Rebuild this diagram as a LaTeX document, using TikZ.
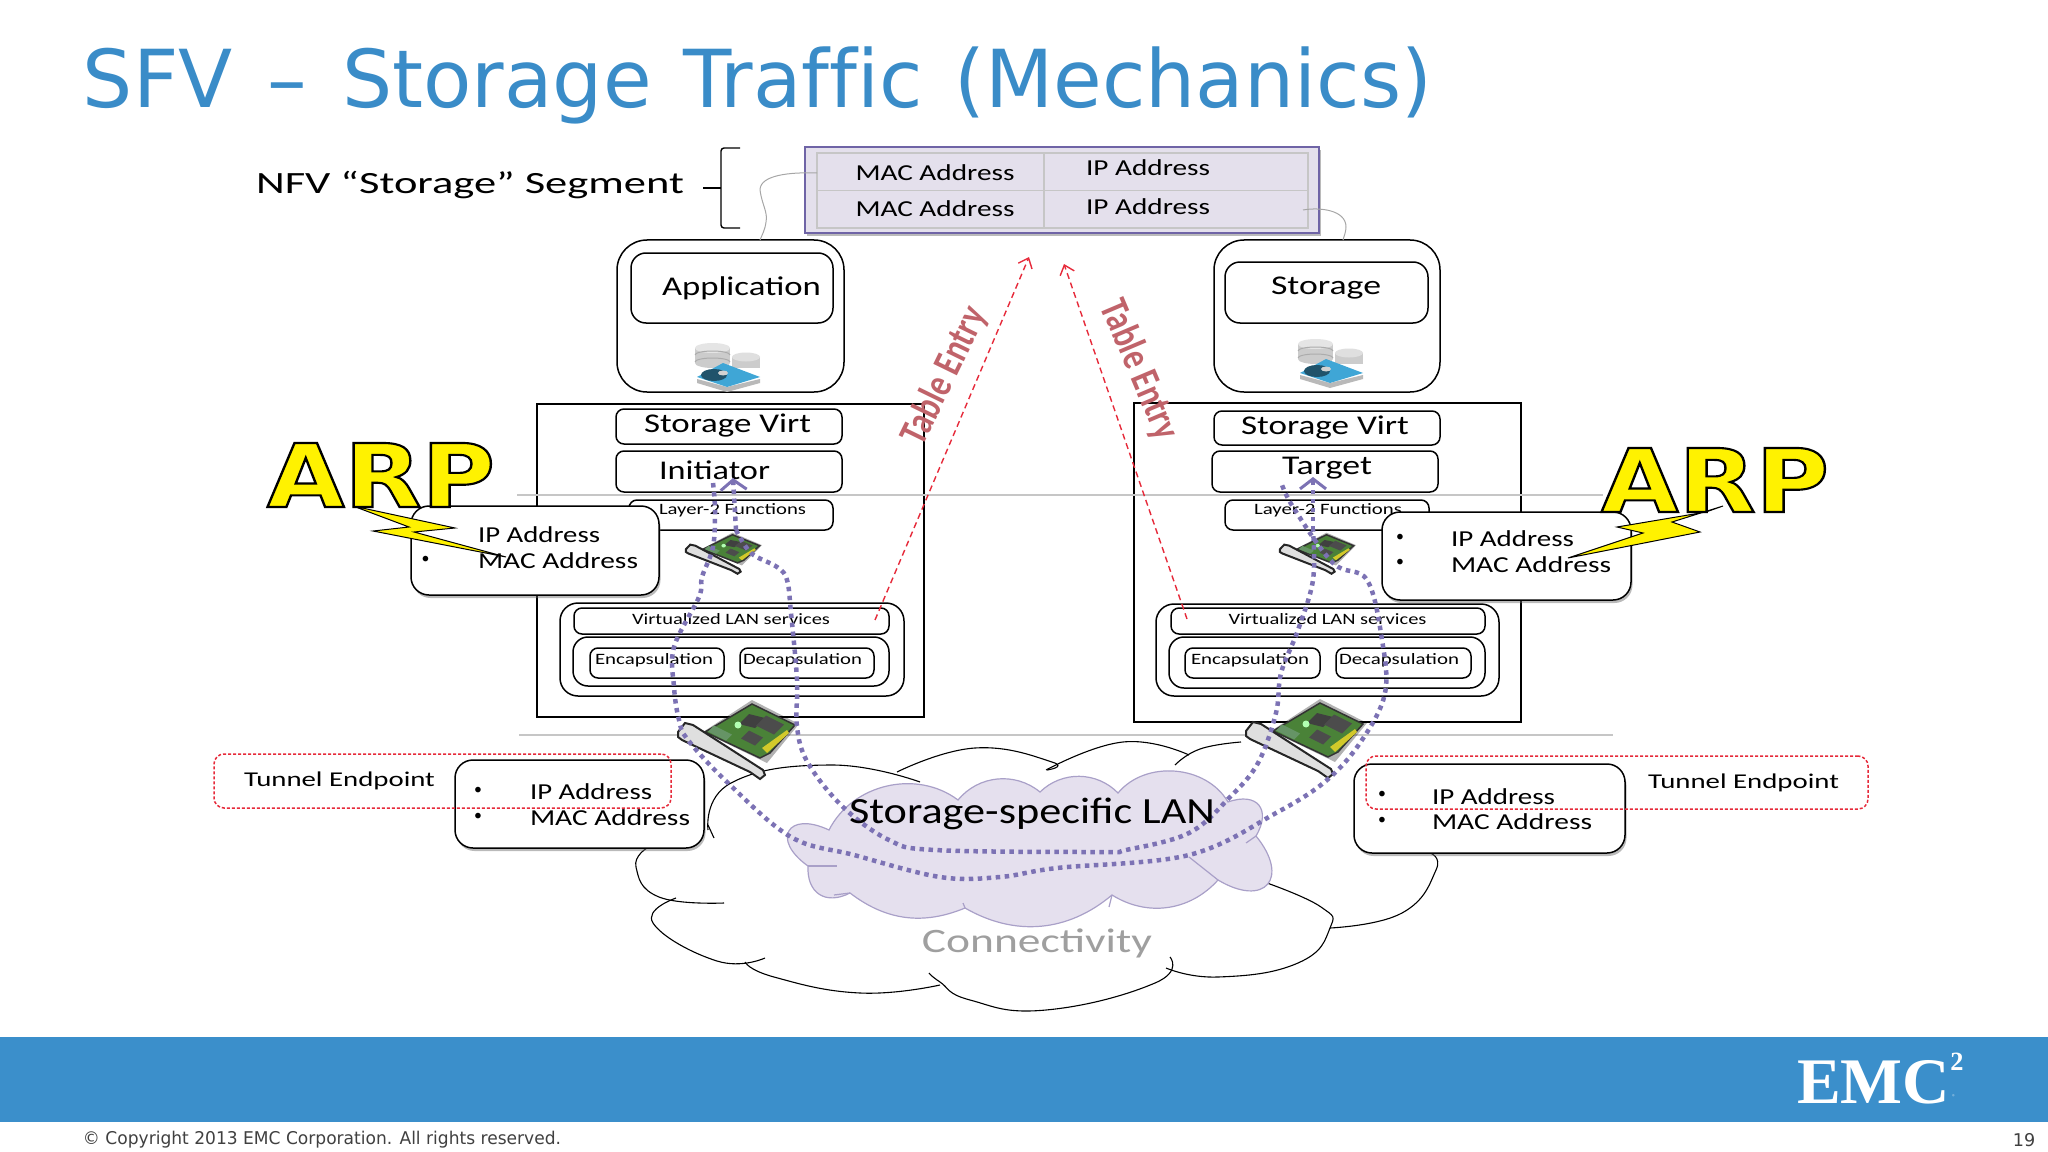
\documentclass[tikz,border=0pt]{standalone}
\usepackage{fontspec}
\usepackage{graphicx}
\usepackage{tikz}
\usetikzlibrary{calc,arrows.meta,shadows}
\setmainfont{Carlito}
\newfontfamily\titlefont[Ligatures=NoCommon]{DejaVu Sans}
\newfontfamily\arpfont{DejaVu Sans}
\newfontfamily\logofont{Liberation Serif}

\newlength\pxu
\setlength\pxu{0.02cm}
% text stretched to a width given in picture units
\newcommand{\fitw}[2]{\resizebox{#1\pxu}{\height}{#2}}
\newcommand{\arptext}{\resizebox{228\pxu}{\height}{\bfseries\special{pdf:code q 2 Tr 0 0 0 RG 1.2 w}ARP\special{pdf:code Q}}}
\newcommand{\cloudarc}[1]{\draw[cloudline] plot[smooth, tension=0.8] coordinates {#1};}

\definecolor{emcblue}{HTML}{3B8FCB}
\definecolor{titleblue}{HTML}{3A8CC8}
\definecolor{tblfill}{HTML}{E4E0EC}
\definecolor{tbledge}{HTML}{6F64A6}
\definecolor{lanfill}{HTML}{E5E0EE}
\definecolor{lanedge}{HTML}{A9A0C8}
\definecolor{pathpurple}{HTML}{7C72B4}
\definecolor{redline}{HTML}{E62A3A}
\definecolor{entrytext}{HTML}{C0636A}
\definecolor{nicgreen}{HTML}{4A8238}
\definecolor{hddblue}{HTML}{3FA6D6}

\tikzset{
  rbox/.style={draw=black, fill=white, rectangle, rounded corners=#1\pxu, line width=1.5\pxu, inner sep=0pt},
  rbox/.default=10,
  wh/.style 2 args={minimum width=#1\pxu, minimum height=#2\pxu},
  bigbox/.style={draw=black, fill=white, rectangle, line width=1.5\pxu, inner sep=0pt},
  softshadow/.style={drop shadow={shadow xshift=1.5\pxu, shadow yshift=-3\pxu, opacity=0.45, fill=black!60}},
  tunnelbox/.style={draw=redline, rectangle, rounded corners=10\pxu, line width=1.5\pxu, dash pattern=on 3\pxu off 2\pxu, inner sep=0pt},
  cloudline/.style={draw=black, line width=1.1\pxu},
  graylink/.style={draw=gray!70, line width=1\pxu},
  sepline/.style={draw=gray!45, line width=1.2\pxu},
  redarrow/.style={draw=redline, line width=1.4\pxu, dash pattern=on 6\pxu off 4\pxu, -{Straight Barb[length=5pt, width=8.5pt, line width=0.8pt]}},
  dotpath/.style={draw=pathpurple, line width=4.5\pxu, dash pattern=on 4.5\pxu off 4.5\pxu},
  lab/.style={inner sep=0pt, font=\fontsize{13}{15}\selectfont},
  bulletl/.style={inner sep=0pt, font=\fontsize{9}{11}\selectfont},
  bigl/.style={inner sep=0pt, font=\fontsize{15.4}{18}\selectfont},
  smalll/.style={inner sep=0pt, font=\fontsize{9}{11}\selectfont},
  tunl/.style={inner sep=0pt, font=\fontsize{12}{14}\selectfont},
  entry/.style={inner sep=0pt, text=entrytext, font=\bfseries\fontsize{23}{26}\selectfont},
  arp/.style={inner sep=0pt, text=yellow, font=\arpfont\fontsize{50}{54}\selectfont},
  bolt/.style={draw=black, fill=yellow, line width=1\pxu},
  nic/.pic={
    % card body, its shadow first
    \fill[black, opacity=0.3] (15,-41) -- (62,-17) -- (30,22) -- (-34,-9) -- cycle;
    \filldraw[fill=nicgreen, draw=black!80, line width=1.5\pxu] (15,-37) -- (58,-16) -- (33,12) -- (23,17) -- (-32,-9) -- cycle;
    \fill[black!75] (18,-13) -- (28,-23) -- (12,-27) -- (2,-17) -- cycle;
    \fill[black!70] (37,-6.5) -- (47,-16.5) -- (29,-25.5) -- (19,-15.5) -- cycle;
    \fill[black!70] (18,4.5) -- (26,-3.5) -- (12,-10.5) -- (4,-2.5) -- cycle;
    \fill[green!30!black!60] (-11,-0.5) -- (-5,-6.5) -- (-23,-15.5) -- (-29,-9.5) -- cycle;
    \fill[white!70!green] (1,-16) circle[radius=3.5];
    \fill[yellow!80!black] (25,7) -- (50,-11) -- (52,-8) -- (30,12) -- cycle;
    % bracket
    \filldraw[fill=gray!25, draw=black!85, line width=2\pxu] (-59,-9) -- (-52,-18) -- (-44,-16) -- (26,29) -- (28,34) -- (23,38) -- (13,31) -- (-55,-1) -- (-59,-4) -- cycle;
  },
  dbicon/.pic={
    \fill[gray!40] (-33,-18) rectangle (2,-3);
    \fill[gray!40] (-15.5,-3) ellipse[x radius=17.5, y radius=5];
    \fill[gray!20] (-15.5,-18) ellipse[x radius=17.5, y radius=5];
    \draw[gray!65, line width=1\pxu] (-33,-11) arc[start angle=180, end angle=360, x radius=17.5, y radius=4];
    \draw[gray!65, line width=1\pxu] (-33,-4) arc[start angle=180, end angle=360, x radius=17.5, y radius=4];
    \fill[gray!40] (4,-9) rectangle (32,2);
    \fill[gray!25] (18,-9) ellipse[x radius=14, y radius=4.5];
    \fill[gray!55] (-31,13) -- (-1,21) -- (32,13) -- (32,17) -- (-1,26) -- (-31,17) -- cycle;
    \fill[hddblue] (-31,11) -- (-5,-3) -- (32,11) -- (-1,21) -- cycle;
    \fill[hddblue!50!black] (-14,9) ellipse[x radius=13, y radius=6];
    \fill[gray!35] (-5,7) ellipse[x radius=5, y radius=2.5];
  },
}

\begin{document}
\begin{tikzpicture}[x=0.02cm, y=-0.02cm]

  \useasboundingbox (0,0) rectangle (2048,1152);

  % ---- title and footer ----
  \node[inner sep=0pt, text=titleblue, font=\titlefont\fontsize{45.5}{52}\selectfont] (title) at (757.5,85) {\fitw{1349}{SFV\hspace{10\pxu} – \hspace{10\pxu}Storage\hspace{7\pxu} Traffic\hspace{7\pxu} (Mechanics)}};
  \fill[emcblue] (0,1037) rectangle (2048,1122);
  \node[inner sep=0pt, text=white, font=\logofont\bfseries\fontsize{37}{40}\selectfont] (emc) at (1873.5,1082) {\fitw{153}{EMC}};
  \node[inner sep=0pt, text=white, font=\logofont\bfseries\fontsize{15}{16}\selectfont] (emctwo) at (1957,1062) {2};
  \node[inner sep=0pt, text=white!70!emcblue, font=\fontsize{4}{4}\selectfont] (emcreg) at (1954,1097) {\textregistered};
  \node[inner sep=0pt, text=black!75, font=\titlefont\fontsize{10}{12}\selectfont] (copyright) at (322,1140) {\fitw{478}{\textcopyright{} Copyright 2013 EMC Corporation. All rights reserved.}};
  \node[inner sep=0pt, text=black!75, font=\titlefont\fontsize{10}{12}\selectfont] (pagenum) at (2024,1140) {19};

  % ---- outer cloud ----
  \cloudarc{(708,830)(731,783)(831,765)(920,782)}
  \cloudarc{(708,825)(714,838)}
  \cloudarc{(897,772)(975,748)(1052,762)(1047,770)}
  \cloudarc{(1046,770)(1123,742)(1189,755)}
  \cloudarc{(1175,765)(1200,749)(1241,742)}
  \cloudarc{(1430,853)(1436,870)(1402,913)(1330,928)}
  \cloudarc{(1267,883)(1321,907)(1330,928)(1298,963)(1218,977)(1166,968)}
  \cloudarc{(1170,957)(1155,983)(1046,1010)(970,1000)(940,982)(929,973)}
  \cloudarc{(940,985)(860,993)(774,977)(745,962)}
  \cloudarc{(765,958)(717,961)(653,923)(676,898)}
  \cloudarc{(724,903)(659,897)(636,867)(647,848)}

  % ---- storage LAN cloud ----
  \filldraw[fill=lanfill, draw=lanedge, line width=1.2\pxu]
    (829,830) to[bend left=50] (958,800) to[bend left=45] (1040,792)
    to[bend left=45] (1118,793) to[bend left=55] (1228,802)
    to[bend left=70, looseness=1.8] (1256,836) to[bend left=80, looseness=2.4] (1218,880)
    to[bend left=40] (1112,895) to[bend left=35] (965,908)
    to[bend left=30] (850,893) to[bend left=60, looseness=1.4] (808,866)
    to[bend left=85, looseness=2.8] cycle;
  % inner tails of the bumps
  \foreach \tx/\ty/\ux/\uy in {808/866/837/866, 850/893/834/895, 965/908/963/903, 1112/895/1109/907, 1218/880/1189/857, 1256/836/1246/843}
    \draw[lanedge, line width=1.2\pxu] (\tx,\ty) -- (\ux,\uy);

  % ---- segment table ----
  \node[draw=tbledge, fill=tblfill, rectangle, line width=2\pxu, inner sep=0pt, wh={514}{86}, softshadow] (segtable) at (1062,190) {};
  \node[draw=gray!45, rectangle, line width=1.2\pxu, inner sep=0pt, wh={491}{75}] (seginner) at (1062.5,190.5) {};
  \coordinate (rowL) at (seginner.west);
  \coordinate (rowR) at (seginner.east);
  \coordinate (colT) at (1044,153);
  \coordinate (colB) at (1044,228);
  \draw[gray!45, line width=1.2\pxu] (rowL) -- (rowR);
  \draw[gray!45, line width=1.2\pxu] (colT) -- (colB);
  \node[lab] (mac1) at (935,173) {\fitw{159}{MAC Address}};
  \node[lab] (mac2) at (935,209) {\fitw{159}{MAC Address}};
  \node[lab] (ip1) at (1148,168) {\fitw{124}{IP Address}};
  \node[lab] (ip2) at (1148,207) {\fitw{124}{IP Address}};

  % brace and its label
  \draw[black, line width=1.4\pxu, rounded corners=3\pxu] (740,148) -| (721,228) -- (740,228);
  \draw[black, line width=1.4\pxu] (703,188) -- (721,188);
  \node[inner sep=0pt, font=\fontsize{17.6}{20}\selectfont] (segment) at (470,185.5) {\fitw{428}{NFV “Storage” Segment}};

  % ---- application and storage ----
  \node[rbox=30, wh={227}{152}] (appouter) at (730.5,316) {};
  \node[rbox=15, wh={202}{70}] (appinner) at (732,288) {};
  \node[bigl] (applbl) at (741.5,288) {\fitw{159}{Application}};
  \pic at (728,366) {dbicon};
  \node[rbox=30, wh={226}{152}] (stoouter) at (1327,316) {};
  \node[rbox=15, wh={203}{61}] (stoinner) at (1326.5,292.5) {};
  \node[bigl] (stolbl) at (1326,288) {\fitw{110}{Storage}};
  \pic at (1331,362) {dbicon};

  % gray links from the table
  \coordinate (linkLa) at (817,173);
  \coordinate (linkLb) at (760,240);
  \coordinate (linkRa) at (1303,210);
  \coordinate (linkRb) at (1343,240);
  \draw[graylink] (linkLa) .. controls (790,172) and (760,175) .. (760,190) .. controls (762,205) and (768,212) .. (766,222) .. controls (765,230) and (762,235) .. (linkLb);
  \draw[graylink] (linkRa) .. controls (1320,207) and (1346,210) .. (1346,227) .. controls (1346,232) and (1344,236) .. (linkRb);

  % ---- left and right stacks ----
  \node[bigbox, wh={387}{313}] (hostL) at (730.5,560.5) {};
  \node[bigbox, wh={387}{319}] (hostR) at (1327.5,562.5) {};

  \coordinate (sep1a) at (517,495);
  \coordinate (sep1b) at (1603,495);
  \coordinate (sep2a) at (519,735);
  \coordinate (sep2b) at (1613,735);
  \draw[sepline] (sep1a) -- (sep1b);
  \draw[sepline] (sep2a) -- (sep2b);

  \node[rbox=8, wh={226}{35}] (virtL) at (729,426.5) {};
  \node[bigl] (virtLlbl) at (727.5,425.5) {\fitw{167}{Storage Virt}};
  \node[rbox=8, wh={226}{41}] (initbox) at (729,471.5) {};
  \node[bigl] (initlbl) at (714.5,470) {\fitw{111}{Initiator}};
  \node[rbox=8, wh={204}{30}] (layerL) at (731,515) {};
  \node[smalll] (layerLlbl) at (732.5,510) {\fitw{147}{Layer-2 Functions}};
  \node[rbox=8, wh={226}{34}] (virtR) at (1327,428) {};
  \node[bigl] (virtRlbl) at (1325,427.5) {\fitw{168}{Storage Virt}};
  \node[rbox=8, wh={226}{41}] (tgtbox) at (1325,471.5) {};
  \node[bigl] (tgtlbl) at (1327,468) {\fitw{90}{Target}};
  \node[rbox=8, wh={204}{30}] (layerR) at (1327,515) {};
  \node[smalll] (layerRlbl) at (1328,510) {\fitw{148}{Layer-2 Functions}};

  \node[rbox=18, wh={344}{93}] (vlanL) at (732,649.5) {};
  \node[rbox=8, wh={315}{26}] (vserL) at (731.5,621) {};
  \node[smalll] (vserLlbl) at (731,619) {\fitw{198}{Virtualized LAN services}};
  \node[rbox=15, wh={316}{49}] (vinL) at (731,661.5) {};
  \node[rbox=8, wh={134}{30}] (encL) at (657,663) {};
  \node[smalll] (encLlbl) at (654,660) {\fitw{118}{Encapsulation}};
  \node[rbox=8, wh={134}{30}] (decL) at (807,663) {};
  \node[smalll] (decLlbl) at (802.5,660) {\fitw{119}{Decapsulation}};

  \node[rbox=18, wh={343}{92}] (vlanR) at (1327.5,650) {};
  \node[rbox=8, wh={314}{26}] (vserR) at (1328,621) {};
  \node[smalll] (vserRlbl) at (1327.5,619) {\fitw{198}{Virtualized LAN services}};
  \node[rbox=15, wh={316}{51}] (vinR) at (1327,662.5) {};
  \node[rbox=8, wh={135}{30}] (encR) at (1252.5,663) {};
  \node[smalll] (encRlbl) at (1250,660) {\fitw{118}{Encapsulation}};
  \node[rbox=8, wh={135}{30}] (decR) at (1403.5,663) {};
  \node[smalll] (decRlbl) at (1399,660) {\fitw{120}{Decapsulation}};

  % network cards
  \pic[xscale=0.63, yscale=0.52] at (723,554) {nic};
  \pic[xscale=0.63, yscale=0.52] at (1317,554) {nic};
  \pic at (737,741) {nic};
  \pic at (1305,740) {nic};

  % ---- address boxes ----
  \node[rbox=18, wh={248}{89}, softshadow] (addrUL) at (535,550.5) {};
  \node[rbox=18, wh={249}{88}, softshadow] (addrUR) at (1506.5,556) {};
  \node[rbox=18, wh={249}{88}, softshadow] (addrLL) at (579.5,804) {};
  \node[rbox=18, wh={271}{89}, softshadow] (addrLR) at (1489.5,808.5) {};

  \node[lab] (ipUL) at (539,535) {\fitw{122}{IP Address}};
  \node[lab] (macUL) at (558,561) {\fitw{160}{MAC Address}};
  \node[lab] (ipUR) at (1512.5,539) {\fitw{123}{IP Address}};
  \node[lab] (macUR) at (1531,565) {\fitw{160}{MAC Address}};
  \node[lab] (ipLL) at (591,792) {\fitw{122}{IP Address}};
  \node[lab] (macLL) at (610,818) {\fitw{160}{MAC Address}};
  \node[lab] (ipLR) at (1493.5,797) {\fitw{123}{IP Address}};
  \node[lab] (macLR) at (1512,822) {\fitw{160}{MAC Address}};

  \foreach \i/\bx/\by in {1/425.5/560, 2/1400/538, 3/1400/563, 4/478/791, 5/478/817, 6/1382/795, 7/1382/821}
    \node[bulletl] (bullet\i) at (\bx,\by) {\textbullet};

  % tunnel endpoints
  \node[tunnelbox, wh={457}{54}] (tunL) at (442.5,781) {};
  \node[tunl] (tunLlbl) at (339.5,781) {\fitw{191}{Tunnel Endpoint}};
  \node[tunnelbox, wh={502}{53}] (tunR) at (1617,782.5) {};
  \node[tunl] (tunRlbl) at (1743.5,783) {\fitw{191}{Tunnel Endpoint}};

  % ---- table entry arrows ----
  \coordinate (entryLa) at (875,620);
  \coordinate (entryLb) at (1029,257);
  \coordinate (entryRa) at (1187,619);
  \coordinate (entryRb) at (1064,264);
  \draw[redarrow] (entryLa) -- (entryLb);
  \draw[redarrow] (entryRa) -- (entryRb);
  \node[entry, rotate=64] (entryLlbl) at (945,376) {\fitw{148}{Table Entry}};
  \node[entry, rotate=-67] (entryRlbl) at (1139,370) {\fitw{148}{Table Entry}};

  % ---- ARP ----
  \filldraw[bolt] (353,506) -- (455,528) -- (414,532) -- (506,557) -- (373,531) -- (409,527) -- cycle;
  \node[arp] (arpL) at (381,475) {\arptext};
  \filldraw[bolt] (1723,506) -- (1672,522) -- (1700,532) -- (1568,558) -- (1643,533) -- (1617,527) -- (1706,512) -- cycle;
  \node[arp] (arpR) at (1715,480) {\arptext};

  % ---- storage paths ----
  \coordinate (tipL) at (733,478);
  \coordinate (tipR) at (1313,477);
  \draw[dotpath] plot[smooth, tension=0.6] coordinates {(713,483) (715,510) (713,547) (702,577) (699,597) (674,647) (674,687) (679,720) (688,740) (728,783) (791,837) (854,855) (940,877) (1000,877) (1057,868) (1189,855) (1276,813) (1327,780) (1362,740) (1385,693) (1382,640) (1367,580) (1333,563) (1293,507) (1281,482)};
  \draw[dotpath] plot[smooth, tension=0.6] coordinates {(736,530) (751,553) (777,567) (787,580) (791,613) (797,680) (797,727) (808,763) (843,807) (889,840) (935,850) (1100,852) (1126,850) (1189,833) (1230,797) (1258,763) (1276,713) (1281,673) (1298,630) (1313,580) (1313,530)};
  \draw[dotpath, -{Straight Barb[length=5.7pt, width=14.8pt, line width=1.7pt]}] (736,530) -- (tipL);
  \draw[dotpath, -{Straight Barb[length=5.7pt, width=14.8pt, line width=1.7pt]}] (1313,530) -- (tipR);

  % ---- cloud labels ----
  \node[inner sep=0pt, font=\fontsize{21}{24}\selectfont] (lanlbl) at (1032,814) {\fitw{366}{Storage-specific LAN}};
  \node[inner sep=0pt, text=gray!75, font=\fontsize{19.5}{22}\selectfont] (connlbl) at (1037,943) {\fitw{230}{Connectivity}};

\end{tikzpicture}
\end{document}
